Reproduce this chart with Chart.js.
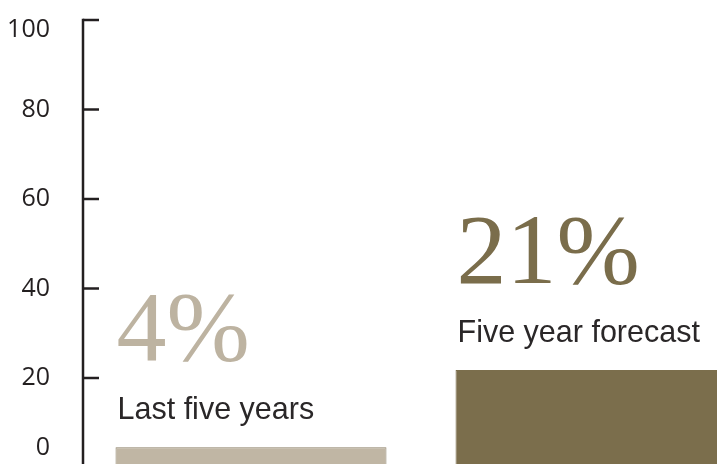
<!DOCTYPE html>
<html>
<head>
<meta charset="utf-8">
<script src="https://cdn.jsdelivr.net/npm/chart.js@4/dist/chart.umd.min.js"></script>
<style>
	html, body { margin: 0; padding: 0; background: #fff; overflow: hidden; }
	#wrap { position: relative; width: 762px; height: 470px; }
</style>
</head>
<body>
<div id="wrap"><canvas id="growth"></canvas></div>
<script>
// values
const categories = ['Last five years', 'Five year forecast'];
const growthPct = [4.5, 21.8];
const bigLabels = ['4%', '21%'];
const yTicks = [0, 20, 40, 60, 80, 100];

(function () {
	const inkColor = '#231f20';
	const barFills = ['#c0b6a4', '#7b6e4c'];
	const barBorders = ['#8c8068', '#7b6e4c'];
	const bigColors = ['#bdb3a1', '#7a6d4b'];

	// draws the left axis with inward ticks and the labels over each bar
	const decor = {
		id: 'decor',
		afterDatasetsDraw(chart) {
			const ctx = chart.ctx;
			const area = chart.chartArea;
			const y = chart.scales.y;
			const axisX = area.left + 2;

			ctx.save();
			ctx.strokeStyle = inkColor;
			ctx.lineWidth = 2.5;
			ctx.beginPath();
			ctx.moveTo(axisX, y.getPixelForValue(100) - 1.25);
			ctx.lineTo(axisX, chart.height);
			ctx.stroke();

			ctx.font = '25px "Open Sans", sans-serif';
			ctx.fillStyle = inkColor;
			ctx.textAlign = 'right';
			ctx.textBaseline = 'middle';
			yTicks.forEach(v => {
				const py = y.getPixelForValue(v);
				ctx.beginPath();
				ctx.moveTo(axisX, py);
				ctx.lineTo(axisX + 16, py);
				ctx.stroke();
				const ly = Math.min(Math.max(py, 30), 448);
				ctx.fillText(String(v), 50, ly);
			});

			const meta = chart.getDatasetMeta(0);
			meta.data.forEach((bar, i) => {
				const p = bar.getProps(['x', 'y', 'width'], true);
				const left = p.x - p.width / 2;
				const base = p.y - 28;
				ctx.textAlign = 'left';
				ctx.textBaseline = 'alphabetic';
				ctx.fillStyle = '#2a2728';
				ctx.font = '30.5px "Liberation Sans", Arial, sans-serif';
				ctx.fillText(categories[i], left + 2, base);
				ctx.fillStyle = bigColors[i];
				ctx.font = '100px "Liberation Serif", "Times New Roman", serif';
				ctx.fillText(bigLabels[i], left + 1, base - 59);
			});
			ctx.restore();
		}
	};

	new Chart(document.getElementById('growth'), {
		type: 'bar',
		data: {
			labels: categories,
			datasets: [{
				data: growthPct,
				backgroundColor: barFills,
				borderColor: barBorders,
				borderWidth: 1,
				barPercentage: 0.797,
				categoryPercentage: 1
			}]
		},
		options: {
			responsive: true, maintainAspectRatio: false,
			animation: false,
			layout: { padding: { left: 81, top: 20, right: 1, bottom: 2.5 } },
			plugins: { legend: { display: false }, tooltip: { enabled: false } },
			scales: {
				x: { display: false },
				y: { display: false, min: 0, max: 100 }
			}
		},
		plugins: [decor]
	});
})();
</script>
</body>
</html>
